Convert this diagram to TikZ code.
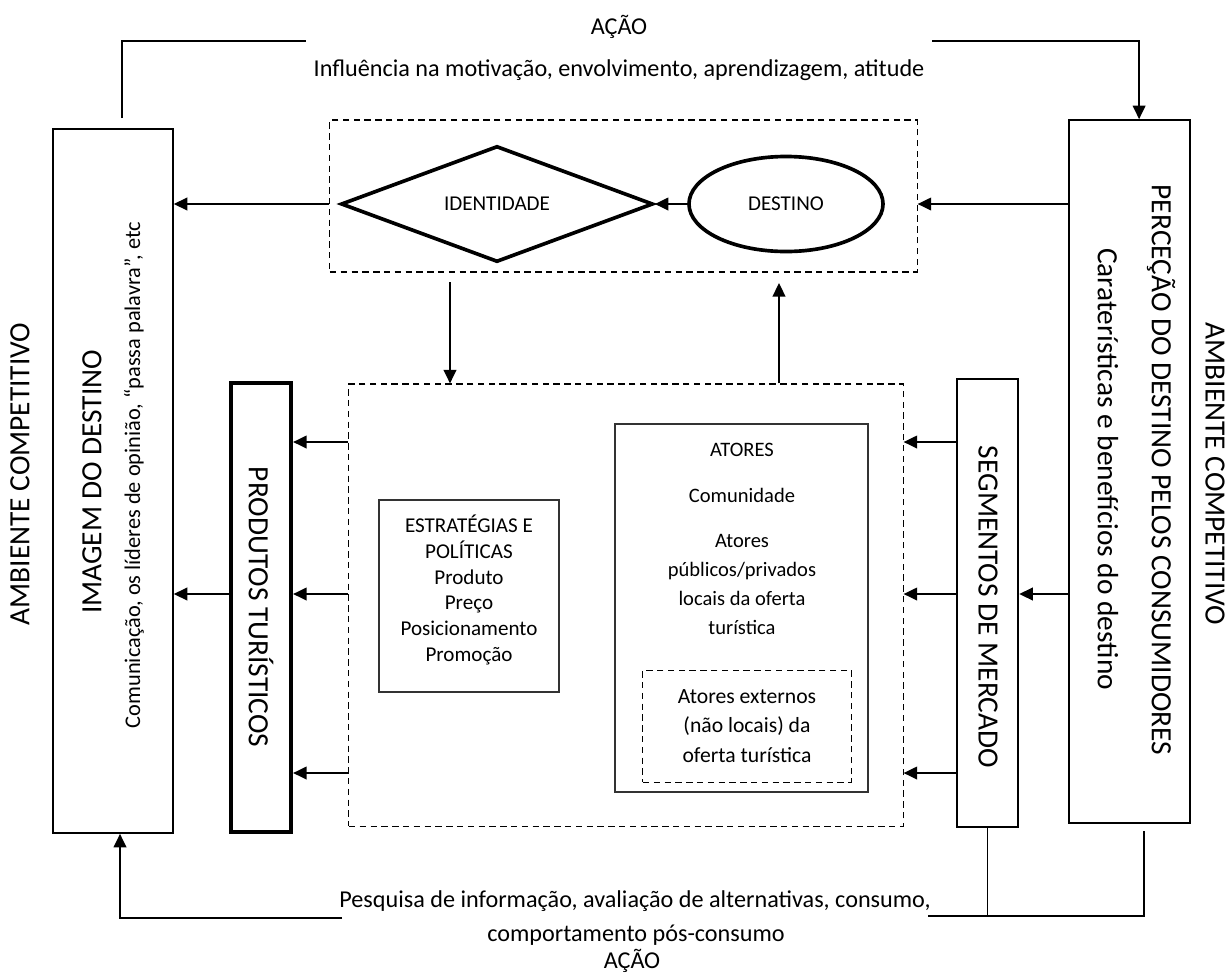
\documentclass[tikz,border=0pt]{standalone}
\usepackage{fontspec}
\setmainfont{Carlito}
\usetikzlibrary{arrows.meta,shapes.geometric}

\begin{document}
\begin{tikzpicture}[
  x=0.025cm, y=-0.025cm,
  font=\fontsize{15}{18.5}\selectfont,
  box/.style={draw,rectangle,inner sep=0pt,line width=1.1pt},
  lbox/.style={draw=black!80,rectangle,inner sep=0pt,line width=0.8pt},
  dbox/.style={draw,rectangle,inner sep=0pt,line width=0.8pt,dash pattern=on 1.6mm off 1.1mm},
  ln/.style={line width=1.1pt},
  arr/.style={line width=1.1pt,-{Triangle[length=3.4mm,width=3.2mm]}},
  act/.style={font=\fontsize{17.2}{20}\selectfont},
  big/.style={font=\fontsize{20.9}{25}\selectfont},
  vup/.style={big,rotate=90},
  vdn/.style={big,rotate=-90}
]
\useasboundingbox (0,0) rectangle (1232,976);

% ---- action texts ----
\node[act] (acaoT) at (619,27) {AÇÃO};
\node[act] (influ) at (619,70) {Influência na motivação, envolvimento, aprendizagem, atitude};
\node[act] (pesq) at (635,901) {Pesquisa de informação, avaliação de alternativas, consumo,};
\node[act] (comp) at (636,935) {comportamento pós-consumo};
\node[act,inner sep=0.5pt] (acaoB) at (632,961) {AÇÃO};

% ---- competitive environment ----
\node[vup] (ambL) at (20,474) {AMBIENTE COMPETITIVO};
\node[vdn] (ambR) at (1215,474) {AMBIENTE COMPETITIVO};

% ---- image / perception ----
\node[box,minimum width=3cm,minimum height=17.6cm] (img) at (113,481) {};
\node[vup] (imgT) at (92,482) {IMAGEM DO DESTINO};
\node[rotate=90,font=\fontsize{15.9}{19}\selectfont] (imgS) at (134,475)
  {Comunicação, os líderes de opinião, “passa palavra”, etc};

\node[box,minimum width=3.025cm,minimum height=17.575cm] (perc) at (1129.5,471.5) {};
\node[vdn] (percT) at (1161,470) {PERCEÇÃO DO DESTINO PELOS CONSUMIDORES};
\node[vdn] (percS) at (1108,469) {Caraterísticas e benefícios do destino};

% ---- products / segments ----
\node[box,line width=3pt,minimum width=1.5cm,minimum height=11.225cm] (prod) at (261,607.5) {};
\node[vdn] (prodT) at (261,607) {PRODUTOS TURÍSTICOS};
\node[box,line width=1.8pt,minimum width=1.525cm,minimum height=11.2cm] (seg) at (987.5,603) {};
\node[vdn] (segT) at (988,607) {SEGMENTOS DE MERCADO};

% ---- identity / destination ----
\node[dbox,minimum width=14.675cm,minimum height=3.8cm] (topbox) at (623.5,196) {};
\node[diamond,draw,line width=2.6pt,inner sep=0pt,aspect=2.7,
      minimum width=7.8cm,minimum height=2.9cm] (ident) at (497,204) {IDENTIDADE};
\node[ellipse,draw,line width=2.6pt,inner sep=0pt,
      minimum width=4.85cm,minimum height=2.375cm] (dest) at (786,204) {DESTINO};

% ---- strategies and actors ----
\node[dbox,minimum width=13.85cm,minimum height=11.05cm] (mainbox) at (626,605) {};
\node[lbox,minimum width=4.5cm,minimum height=4.8cm] (estr) at (469,596) {};
\node[align=center,font=\fontsize{15}{18.4}\selectfont] (estrT) at (469,590)
  {ESTRATÉGIAS E\\ POLÍTICAS\\ Produto\\ Preço\\ Posicionamento\\ Promoção};
\node[lbox,minimum width=6.325cm,minimum height=9.2cm] (atores) at (741.5,608) {};
\node[font=\fontsize{14.6}{18}\selectfont] (atT1) at (742,450) {ATORES};
\node[font=\fontsize{14.6}{18}\selectfont] (atT2) at (742,495) {Comunidade};
\node[align=center,font=\fontsize{14.6}{20.6}\selectfont] (atT3) at (742,584.5)
  {Atores\\ públicos/privados\\ locais da oferta\\ turística};
\node[dbox,line width=0.7pt,minimum width=5.2cm,minimum height=2.8cm,align=center,
      font=\fontsize{15.4}{20.9}\selectfont] (ext) at (747,726)
  {Atores externos\\ (não locais) da\\ oferta turística};

% ---- connectors ----
\coordinate (rA) at (0,442);
\coordinate (rB) at (0,594);
\coordinate (rC) at (0,773);
\coordinate (dn) at (450,282);
\coordinate (up) at (779,283);
\coordinate (tlA) at (122,118);
\coordinate (tlB) at (306,41);
\coordinate (trA) at (932,41);
\coordinate (blA) at (342,918);
\coordinate (brA) at (928,916);
\coordinate (brB) at (1144,831);

\draw[arr] (dest.west) -- (ident.east);
\draw[arr] (topbox.west |- ident) -- (img.east |- ident);
\draw[arr] (perc.west |- dest) -- (topbox.east |- dest);
\draw[arr] (dn) -- (dn |- mainbox.north);
\draw[arr] (up |- mainbox.north) -- (up);
\foreach \r in {rA,rB,rC} {
  \draw[arr] (mainbox.west |- \r) -- (prod.east |- \r);
  \draw[arr] (seg.west |- \r) -- (mainbox.east |- \r);
}
\draw[arr] (prod.west |- rB) -- (img.east |- rB);
\draw[arr] (perc.west |- rB) -- (seg.east |- rB);

\draw[ln] (tlA) |- (tlB);
\draw[arr] (trA) -| ([xshift=0.24cm]perc.north);
\draw[arr] (blA) -| ([xshift=0.175cm]img.south);
\draw[ln] (brA) -| (brB);
\draw[ln] (seg.south) -- (seg.south |- brA);

\end{tikzpicture}
\end{document}
